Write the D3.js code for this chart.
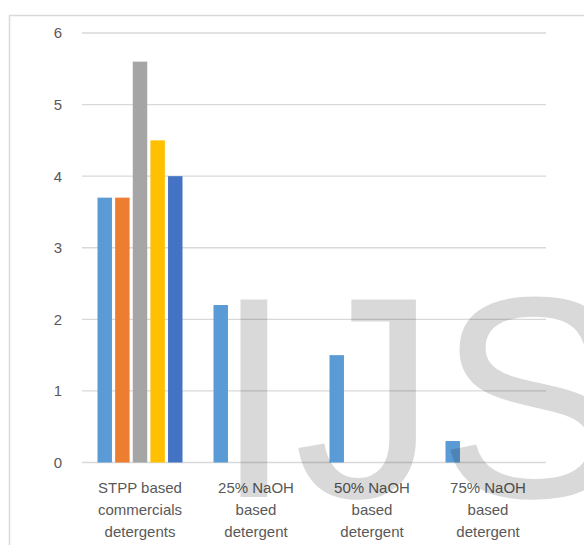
<!DOCTYPE html>
<html>
<head>
<meta charset="utf-8">
<script src="https://cdn.jsdelivr.net/npm/d3@7"></script>
<style>
  html, body { margin: 0; padding: 0; background: #ffffff; }
  svg { display: block; }
</style>
</head>
<body>
<svg id="chart" width="584" height="545"></svg>
<script>
// Category labels (one entry per group, lines split for wrapping)
const categories = [
  "STPP based commercials detergents",
  "25% NaOH based detergent",
  "50% NaOH based detergent",
  "75% NaOH based detergent"
];
const categoryLines = [
  ["STPP based", "commercials", "detergents"],
  ["25% NaOH", "based", "detergent"],
  ["50% NaOH", "based", "detergent"],
  ["75% NaOH", "based", "detergent"]
];

// Series values per category
const seriesNames = ["Series1", "Series2", "Series3", "Series4", "Series5"];
const series1 = [3.7, 2.2, 1.5, 0.3];
const series2 = [3.7, null, null, null];
const series3 = [5.6, null, null, null];
const series4 = [4.5, null, null, null];
const series5 = [4.0, null, null, null];
const seriesColors = ["#5b9bd5", "#ed7d31", "#a5a5a5", "#ffc000", "#4472c4"];

// Y axis ticks
const yTicks = [0, 1, 2, 3, 4, 5, 6];

const allSeries = [series1, series2, series3, series4, series5];

const svg = d3.select("#chart");

// Chart area frame
svg.append("rect")
  .attr("x", 9.5).attr("y", 15.5)
  .attr("width", 620).attr("height", 560)
  .attr("fill", "#ffffff")
  .attr("stroke", "#d9d9d9")
  .attr("stroke-width", 1.5);

const x0 = d3.scaleBand().domain(categories).range([82, 546]);
const x1 = d3.scaleBand().domain(seriesNames).range([15.5, 100.5]).paddingInner(0.18);
const y = d3.scaleLinear().domain([0, 6]).range([462.5, 33]);

// Horizontal gridlines
svg.append("g")
  .selectAll("line")
  .data(yTicks)
  .join("line")
  .attr("x1", 82).attr("x2", 546)
  .attr("y1", d => y(d)).attr("y2", d => y(d))
  .attr("stroke", "#d9d9d9")
  .attr("stroke-width", 1.3);

// Y tick labels
svg.append("g")
  .selectAll("text")
  .data(yTicks)
  .join("text")
  .attr("x", 62)
  .attr("y", d => y(d))
  .attr("dy", "0.36em")
  .attr("text-anchor", "end")
  .attr("font-family", "'Liberation Sans', Arial, sans-serif")
  .attr("font-size", 15)
  .attr("fill", "#595959")
  .text(d => d);

// Bars
const barData = [];
categories.forEach((c, i) => {
  allSeries.forEach((s, j) => {
    if (s[i] != null) barData.push({ cat: c, name: seriesNames[j], value: s[i], color: seriesColors[j] });
  });
});

svg.append("g")
  .selectAll("rect")
  .data(barData)
  .join("rect")
  .attr("x", d => x0(d.cat) + x1(d.name))
  .attr("y", d => y(d.value))
  .attr("width", x1.bandwidth())
  .attr("height", d => y(0) - y(d.value))
  .attr("fill", d => d.color);

// Category labels
const catG = svg.append("g")
  .selectAll("text")
  .data(categories)
  .join("text")
  .attr("text-anchor", "middle")
  .attr("font-family", "'Liberation Sans', Arial, sans-serif")
  .attr("font-size", 15)
  .attr("fill", "#595959");

catG.each(function (d, i) {
  const t = d3.select(this);
  categoryLines[i].forEach((line, k) => {
    t.append("tspan")
      .attr("x", x0(d) + x0.bandwidth() / 2)
      .attr("y", 492.5 + k * 22)
      .text(line);
  });
});

// Publisher watermark overlay
svg.append("text")
  .attr("x", 214)
  .attr("y", 497)
  .attr("font-family", "'Liberation Sans', Arial, sans-serif")
  .attr("font-size", 287)
  .attr("fill", "#000000")
  .attr("fill-opacity", 0.15)
  .text("IJS");
</script>
</body>
</html>
